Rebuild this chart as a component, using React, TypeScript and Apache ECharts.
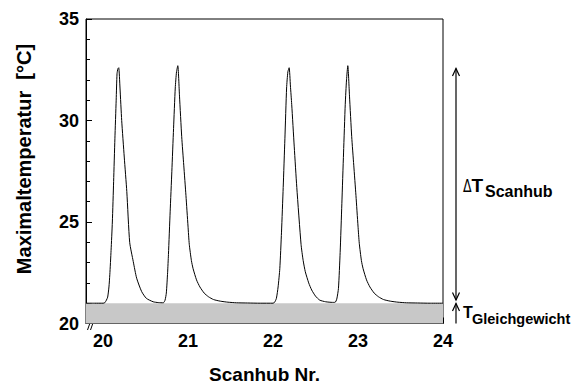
import React, { useEffect, useRef } from "react";
import * as echarts from "echarts";

const scanX: number[] = [
  19.8, 19.9, 20.0, 20.02, 20.04, 20.055, 20.07, 20.08, 20.095, 20.11, 20.125, 20.14, 20.155, 20.165, 20.175, 20.185,
  20.2, 20.22, 20.25, 20.28, 20.314, 20.356, 20.396, 20.455, 20.51, 20.59, 20.65, 20.71,
  20.73, 20.745, 20.76, 20.77, 20.79, 20.81, 20.83, 20.85, 20.865, 20.88,
  20.9, 20.926, 20.95, 20.976, 21.0, 21.015, 21.04, 21.06, 21.1, 21.14, 21.19, 21.24, 21.3, 21.38, 21.47, 21.57, 21.7, 21.85, 22.0,
  22.02, 22.04, 22.06, 22.08, 22.1, 22.12, 22.14, 22.16, 22.175, 22.19,
  22.205, 22.22, 22.25, 22.28, 22.33, 22.355, 22.38, 22.42, 22.455, 22.5, 22.55, 22.62, 22.7, 22.73,
  22.75, 22.77, 22.79, 22.81, 22.83, 22.85, 22.865, 22.88,
  22.9, 22.926, 22.95, 22.976, 23.0, 23.015, 23.04, 23.06, 23.1, 23.14, 23.19, 23.24, 23.3, 23.38, 23.47, 23.57, 23.7, 23.85, 24.0,
];

const tempY: number[] = [
  21.0, 21.0, 21.0, 21.02, 21.15, 21.3, 21.8, 22.4, 23.6, 25.0, 27.0, 29.1, 31.0, 32.3, 32.55, 32.6,
  31.6, 30.0, 28.2, 26.5, 24.0, 23.05, 22.23, 21.57, 21.24, 21.07, 21.03, 21.02,
  21.15, 21.5, 22.5, 23.4, 25.5, 27.5, 29.6, 31.6, 32.4, 32.7,
  31.2, 29.2, 27.8, 26.3, 24.8, 23.9, 23.1, 22.7, 22.15, 21.8, 21.5, 21.32, 21.18, 21.1, 21.05, 21.02, 21.01, 21.0, 21.0,
  21.05, 21.24, 21.8, 22.7, 24.5, 26.7, 29.1, 31.6, 32.4, 32.6,
  31.7, 30.8, 28.7, 26.7, 23.9, 23.1, 22.55, 22.0, 21.65, 21.35, 21.15, 21.07, 21.04, 21.04,
  21.2, 21.73, 23.5, 25.9, 28.4, 30.8, 32.0, 32.7,
  31.2, 29.2, 27.8, 26.3, 24.8, 23.95, 23.1, 22.7, 22.15, 21.8, 21.5, 21.32, 21.18, 21.1, 21.05, 21.02, 21.01, 21.0, 21.0,
];

const xTicks: number[] = [20, 21, 22, 23, 24];
const equilibriumBand: [number, number] = [20, 21];

const FONT = '"Liberation Sans", Arial, sans-serif';

export default function App() {
  const ref = useRef<HTMLDivElement>(null);
  useEffect(() => {
    if (!ref.current) return;
    const chart = echarts.init(ref.current, undefined, { renderer: "svg" });
    const data = scanX.map((x, i) => [x, tempY[i]]);
    const txt = (x: number, y: number, text: string, font: string, scaleX = 1) => ({
      type: "text",
      x,
      y,
      scaleX,
      style: { text, font, fill: "#000", textAlign: "left", textVerticalAlign: "middle" },
    });
    chart.setOption({
      animation: false,
      backgroundColor: "#fff",
      grid: {
        left: 86,
        top: 19,
        right: 132,
        bottom: 61.5,
        containLabel: false,
        outerBoundsMode: "none",
        show: true,
        borderColor: "#000",
        borderWidth: 1,
        backgroundColor: "transparent",
      },
      xAxis: {
        type: "value",
        min: 19.8,
        max: 24,
        axisLine: { show: true, lineStyle: { color: "#000", width: 1 } },
        axisTick: {
          show: true,
          inside: true,
          length: 6,
          customValues: xTicks,
          lineStyle: { color: "#000", width: 1 },
        },
        axisLabel: {
          customValues: xTicks,
          color: "#000",
          fontFamily: FONT,
          fontWeight: "bold",
          fontSize: 18,
          margin: 8,
        },
        splitLine: { show: false },
        name: "Scanhub Nr.",
        nameLocation: "middle",
        nameGap: 41,
        nameTextStyle: { color: "#000", fontFamily: FONT, fontWeight: "bold", fontSize: 19 },
      },
      yAxis: {
        type: "value",
        min: 20,
        max: 35,
        interval: 5,
        axisLine: { show: true, lineStyle: { color: "#000", width: 1 } },
        axisTick: { show: true, inside: true, length: 6, lineStyle: { color: "#000", width: 1 } },
        minorTick: { show: true, splitNumber: 5, length: 4, lineStyle: { color: "#000", width: 1 } },
        axisLabel: {
          color: "#000",
          fontFamily: FONT,
          fontWeight: "bold",
          fontSize: 18,
          margin: 7,
        },
        splitLine: { show: false },
      },
      series: [
        {
          type: "line",
          data,
          showSymbol: false,
          smooth: 0.2,
          lineStyle: { color: "#000", width: 1 },
          z: 3,
          markArea: {
            silent: true,
            itemStyle: { color: "#c8c8c8", opacity: 1 },
            data: [[{ yAxis: equilibriumBand[0] }, { yAxis: equilibriumBand[1] }]],
          },
        },
      ],
      graphic: [
        {
          type: "text",
          x: 24,
          y: 159,
          rotation: Math.PI / 2,
          style: {
            text: "Maximaltemperatur  [°C]",
            font: `bold 20px ${FONT}`,
            fill: "#000",
            textAlign: "center",
            textVerticalAlign: "middle",
          },
        },
        // axis break mark
        { type: "line", shape: { x1: 87.5, y1: 330, x2: 90.5, y2: 321.5 }, style: { stroke: "#000", lineWidth: 1 } },
        { type: "line", shape: { x1: 90.5, y1: 330, x2: 93.5, y2: 321.5 }, style: { stroke: "#000", lineWidth: 1 } },
        // double arrow Delta T
        { type: "line", shape: { x1: 456, y1: 68.5, x2: 456, y2: 300 }, style: { stroke: "#000", lineWidth: 1.2 } },
        {
          type: "polyline",
          shape: { points: [[452.5, 76], [456, 68.5], [459.5, 76]] },
          style: { stroke: "#000", lineWidth: 1.2, fill: "none" },
        },
        {
          type: "polyline",
          shape: { points: [[452.5, 292.5], [456, 300], [459.5, 292.5]] },
          style: { stroke: "#000", lineWidth: 1.2, fill: "none" },
        },
        // small up arrow
        { type: "line", shape: { x1: 456, y1: 303.5, x2: 456, y2: 323.5 }, style: { stroke: "#000", lineWidth: 1.2 } },
        {
          type: "polyline",
          shape: { points: [[452.5, 311], [456, 303.5], [459.5, 311]] },
          style: { stroke: "#000", lineWidth: 1.2, fill: "none" },
        },
        // Delta T Scanhub
        txt(463, 186.5, "Δ", `18px "DejaVu Sans", ${FONT}`, 0.7),
        txt(471.5, 185, "T", `bold 19px ${FONT}`),
        txt(485, 191, "Scanhub", `bold 16px ${FONT}`),
        // T Gleichgewicht
        txt(463, 312, "T", `bold 16px ${FONT}`),
        txt(472, 318.5, "Gleichgewicht", `bold 14.5px ${FONT}`),
      ],
    });
    return () => chart.dispose();
  }, []);
  return (
    <div
      ref={ref}
      style={{ position: "absolute", left: 0, top: 0, width: 575, height: 385 }}
    />
  );
}
